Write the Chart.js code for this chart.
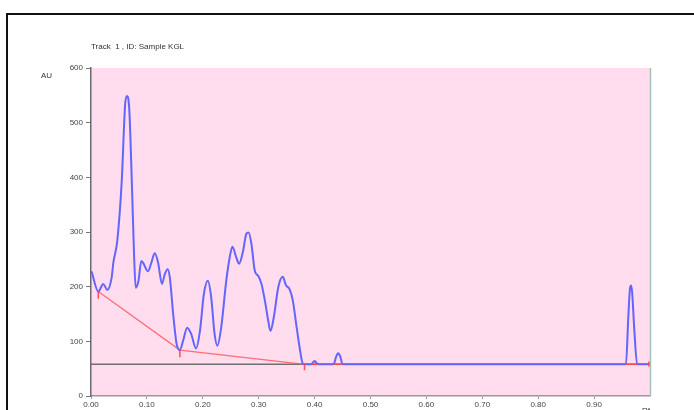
<!DOCTYPE html>
<html>
<head>
<meta charset="utf-8">
<script src="https://cdn.jsdelivr.net/npm/chart.js@4/dist/chart.umd.min.js"></script>
<style>
  html, body { margin: 0; padding: 0; background: #ffffff; }
  #wrap { width: 694px; height: 410px; position: relative; }
</style>
</head>
<body>
<div id="wrap"><canvas id="c" width="694" height="410"></canvas></div>
<script>
// Densitometric scan of track 1: Rf position vs. absorbance (AU)
const rfPositions = [
  0.001, 0.013, 0.022, 0.029, 0.037, 0.040, 0.047, 0.055, 0.061, 0.064,
  0.068, 0.073, 0.077, 0.080, 0.085, 0.090, 0.093, 0.102, 0.108, 0.114,
  0.120, 0.127, 0.132, 0.137, 0.141, 0.147, 0.153, 0.159, 0.165, 0.172,
  0.179, 0.188, 0.195, 0.202, 0.209, 0.215, 0.221, 0.226, 0.233, 0.242,
  0.248, 0.253, 0.260, 0.265, 0.272, 0.278, 0.282, 0.287, 0.293, 0.299,
  0.305, 0.311, 0.317, 0.321, 0.327, 0.335, 0.343, 0.349, 0.355, 0.361,
  0.367, 0.373, 0.379, 0.382, 0.394, 0.400, 0.406, 0.434, 0.438, 0.442,
  0.446, 0.450, 0.957, 0.961, 0.964, 0.966, 0.968, 0.972, 0.977, 1.000
];
const absorbance = [
  228, 191, 205, 194, 217, 244, 284, 393, 532, 549,
  532, 393, 259, 198, 211, 247, 244, 228, 244, 261,
  244, 205, 223, 232, 217, 150, 96, 84, 102, 125,
  114, 87, 120, 187, 211, 181, 114, 92, 126, 211,
  253, 273, 253, 242, 265, 297, 299, 278, 229, 220,
  205, 175, 138, 119, 144, 199, 218, 202, 196, 175,
  132, 90, 59, 58, 58, 64, 58, 58, 70, 78,
  72, 58, 58, 140, 195, 202, 190, 120, 58, 58
];

// Peak baseline (integration) segments
const baselineRf = [0.013, 0.159, 0.382];
const baselineAU = [191, 84, 58];

// Detector zero line
const zeroLineRf = [0.0, 1.0];
const zeroLineAU = [58, 58];

// Integration boundary markers and peak-base segments on the zero line
const markerRf = [0.013, 0.013, null, 0.159, 0.159, null, 0.382, 0.382, null,
                  0.394, 0.406, null, 0.434, 0.450, null, 0.957, 0.977, null, 0.998, 0.998];
const markerAU = [191, 178, null, 84, 71, null, 58, 47, null,
                  58, 58, null, 58, 58, null, 58, 58, null, 63, 54];

const xTicks = [0.00, 0.10, 0.20, 0.30, 0.40, 0.50, 0.60, 0.70, 0.80, 0.90];
const yTicks = [0, 100, 200, 300, 400, 500, 600];

const titleText = 'Track  1 , ID: Sample KGL';
const yUnit = 'AU';
const xUnit = 'Rf';

function pairs(xs, ys) {
  return xs.map((x, i) => (x === null ? { x: NaN, y: null } : { x: x, y: ys[i] }));
}

const frame = {
  id: 'frame',
  beforeDraw(chart) {
    const { ctx, chartArea: a } = chart;
    ctx.save();
    ctx.fillStyle = '#ffdcee';
    ctx.fillRect(a.left, a.top, a.right - a.left, a.bottom - a.top);
    ctx.restore();
  },
  afterDraw(chart) {
    const { ctx, chartArea: a } = chart;
    ctx.save();
    // outer border
    ctx.strokeStyle = '#111';
    ctx.lineWidth = 2;
    ctx.strokeRect(7, 14, 760, 500);
    // right edge of plot
    ctx.strokeStyle = '#a9bdbd';
    ctx.lineWidth = 1.5;
    ctx.beginPath();
    ctx.moveTo(a.right + 0.5, a.top);
    ctx.lineTo(a.right + 0.5, a.bottom);
    ctx.stroke();
    // texts
    ctx.fillStyle = '#333';
    ctx.font = '8px "Liberation Sans", Arial, sans-serif';
    ctx.textBaseline = 'middle';
    ctx.textAlign = 'left';
    ctx.fillText(titleText, 91, 47);
    ctx.fillText(yUnit, 41, 76);
    ctx.textBaseline = 'top';
    ctx.fillText(xUnit, 642, 407);
    ctx.restore();
  }
};

new Chart(document.getElementById('c'), {
  type: 'line',
  data: {
    datasets: [
      {
        data: pairs(zeroLineRf, zeroLineAU),
        borderColor: '#6e6e6e',
        borderWidth: 1.5,
        pointRadius: 0,
        tension: 0,
        order: 4
      },
      {
        data: pairs(baselineRf, baselineAU),
        borderColor: 'rgba(255,90,90,0.85)',
        borderWidth: 1.3,
        pointRadius: 0,
        tension: 0,
        order: 3
      },
      {
        data: pairs(rfPositions, absorbance),
        borderColor: '#6464ff',
        borderWidth: 2,
        pointRadius: 0,
        cubicInterpolationMode: 'monotone',
        order: 2
      },
      {
        data: pairs(markerRf, markerAU),
        borderColor: 'rgba(255,70,70,0.9)',
        borderWidth: 1.6,
        pointRadius: 0,
        tension: 0,
        spanGaps: false,
        order: 1
      }
    ]
  },
  options: {
    responsive: false,
    animation: false,
    events: [],
    layout: { padding: { left: 0, right: 44, top: 68, bottom: 0 } },
    plugins: { legend: { display: false }, tooltip: { enabled: false }, title: { display: false } },
    scales: {
      x: {
        type: 'linear',
        min: 0,
        max: 1.0,
        afterBuildTicks(scale) { scale.ticks = xTicks.map(v => ({ value: v })); },
        afterFit(scale) { scale.height = 14; },
        ticks: {
          autoSkip: false,
          maxRotation: 0,
          padding: 1,
          color: '#444',
          font: { family: '"Liberation Sans", Arial, sans-serif', size: 8 },
          callback: v => v.toFixed(2)
        },
        grid: { drawOnChartArea: false, tickLength: 3, color: '#999' },
        border: { color: '#9a9a9a', width: 1.5 }
      },
      y: {
        min: 0,
        max: 600,
        afterBuildTicks(scale) { scale.ticks = yTicks.map(v => ({ value: v })); },
        afterFit(scale) { scale.width = 91; },
        ticks: {
          padding: 3,
          color: '#444',
          font: { family: '"Liberation Sans", Arial, sans-serif', size: 8 }
        },
        grid: { drawOnChartArea: false, tickLength: 5, color: '#777' },
        border: { color: '#6a6a6a', width: 1.5 }
      }
    }
  },
  plugins: [frame]
});
</script>
</body>
</html>
